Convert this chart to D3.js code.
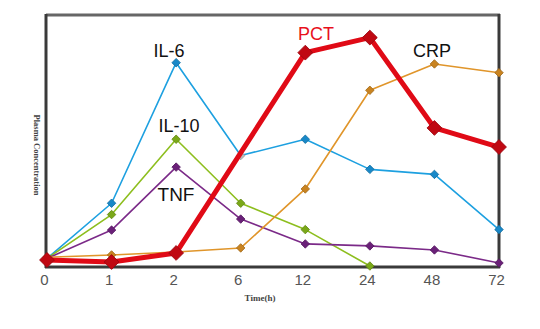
<!DOCTYPE html>
<html><head><meta charset="utf-8">
<script src="https://cdn.jsdelivr.net/npm/d3@7"></script>
<style>body{margin:0;background:#fff}svg{display:block}</style>
</head><body><div id="chart"></div>
<script>
const times = ["0","1","2","6","12","24","48","72"];
const il6  = [3, 25, 81, 44, 50.5, 38.5, 36.5, 14.5];
const il10 = [3, 20.5, 50.5, 25, 14.5, 0, null, null];
const tnf  = [3, 14.3, 39.4, 18.7, 8.8, 8, 6.4, 1.2];
const crp  = [3.5, 4.4, 5.6, 7.2, 30.7, 70, 80.5, 77];
const pct  = [2.4, 1.6, 5.2, null, 85, 91, 55, 47.4];
const seriesNames = ["IL-6","IL-10","TNF","CRP","PCT"];

const W = 540, H = 329;
const svg = d3.select("#chart").append("svg").attr("width", W).attr("height", H);
const x = d3.scalePoint().domain(times).range([47, 499]);
const y = d3.scaleLinear().domain([0, 100]).range([266, 15]);

const series = [
  {name:"IL-6", vals:il6, color:"#1DA0E0", mk:"#1888C8", w:1.6, size:6},
  {name:"IL-10", vals:il10, color:"#8DBE1E", mk:"#7AA818", w:1.6, size:6},
  {name:"TNF", vals:tnf, color:"#7B2A88", mk:"#6A2078", w:1.6, size:6},
  {name:"CRP", vals:crp, color:"#E0952A", mk:"#C98320", w:1.6, size:6},
  {name:"PCT", vals:pct, color:"#E00A16", mk:"#C00812", w:5, size:10.5}
];

// frame
svg.append("line").attr("x1",46).attr("x2",500).attr("y1",15).attr("y2",15).attr("stroke","#666").attr("stroke-width",3);
svg.append("line").attr("x1",46).attr("x2",46).attr("y1",14).attr("y2",268).attr("stroke","#3a3a3a").attr("stroke-width",3);
svg.append("line").attr("x1",499).attr("x2",499).attr("y1",14).attr("y2",268).attr("stroke","#3a3a3a").attr("stroke-width",3);
svg.append("line").attr("x1",45).attr("x2",500).attr("y1",267).attr("y2",267).attr("stroke","#3a3a3a").attr("stroke-width",3);

// x axis labels
const ax = svg.append("g").attr("transform","translate(0,274)")
  .call(d3.axisBottom(x).tickSize(0).tickPadding(0));
ax.select(".domain").remove();
ax.selectAll("text").attr("font-family","'Liberation Sans Narrow','Liberation Sans',sans-serif")
  .attr("font-size",15).attr("fill","#555").attr("dy","0.71em").attr("dx",-3);

// axis titles
svg.append("text").attr("x",260).attr("y",301).attr("text-anchor","middle")
  .attr("font-family","'Liberation Serif','DejaVu Serif',serif").attr("font-weight","bold")
  .attr("font-size",9).attr("fill","#444").text("Time(h)");
svg.append("text").attr("transform","translate(34,155) rotate(90)").attr("text-anchor","middle")
  .attr("font-family","'Liberation Serif','DejaVu Serif',serif").attr("font-weight","bold")
  .attr("font-size",8.5).attr("fill","#444").text("Plasma Concentration");

const line = d3.line().defined(d => d[1] != null).x(d => x(d[0])).y(d => y(d[1]));

series.forEach(s => {
  const pts = times.map((t,i) => [t, s.vals[i]]).filter(d => d[1] != null);
  const g = svg.append("g");
  g.append("path").datum(pts).attr("d", line).attr("fill","none")
    .attr("stroke", s.color).attr("stroke-width", s.w).attr("stroke-linejoin","round");
  g.selectAll("rect").data(pts).join("rect")
    .attr("x", -s.size/2).attr("y", -s.size/2).attr("width", s.size).attr("height", s.size)
    .attr("transform", d => `translate(${x(d[0])},${y(d[1])}) rotate(45)`)
    .attr("fill", d => (s.name==="IL-6" && d[0]==="6") ? "#bbb" : s.mk)
    .attr("stroke", d => (s.name==="IL-6" && d[0]==="6") ? "#999" : d3.color(s.mk).darker(0.6))
    .attr("stroke-width", 0.8);
});

// series labels
const labelPos = {"IL-6":[169,57],"IL-10":[179,132],"TNF":[176,201],"PCT":[316,40],"CRP":[432,57]};
seriesNames.forEach(n => {
  svg.append("text").attr("x", labelPos[n][0]).attr("y", labelPos[n][1]).attr("text-anchor","middle")
    .attr("font-family","'Liberation Sans Narrow','Liberation Sans',sans-serif")
    .attr("font-size", n==="TNF" ? 19 : 18)
    .attr("fill", n==="PCT" ? "#E8101C" : "#111").text(n);
});
</script></body></html>
